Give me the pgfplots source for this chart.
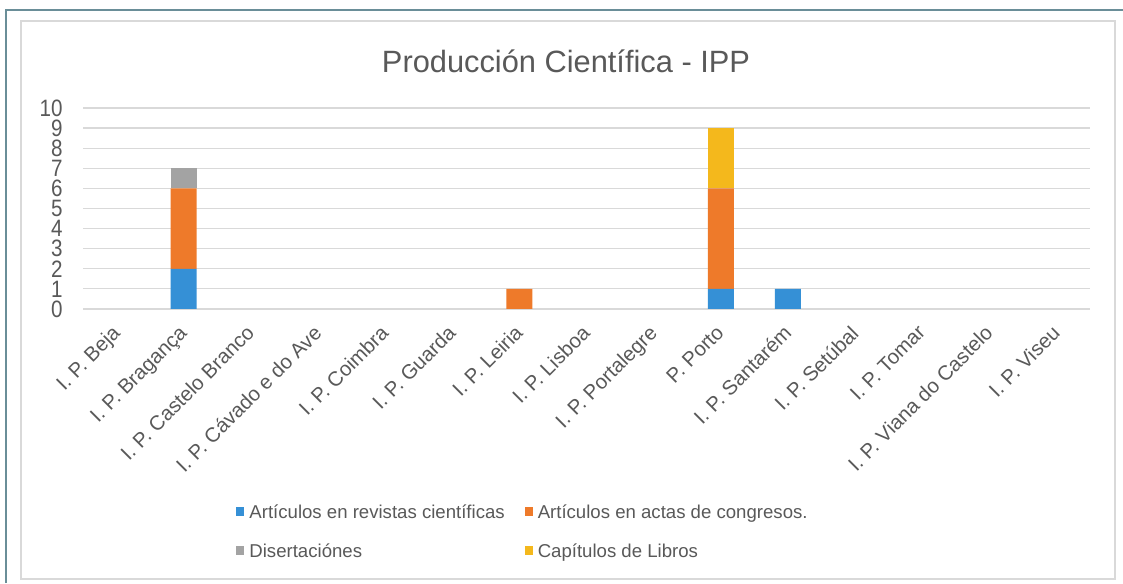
\documentclass[border=0pt]{standalone}
\usepackage{pgfplots}
\pgfplotsset{compat=1.18}
\usepackage{fontspec}
\setmainfont{Liberation Sans}
\definecolor{cblue}{HTML}{3590D6}
\definecolor{corange}{HTML}{EE7A2A}
\definecolor{cgray}{HTML}{A3A3A3}
\definecolor{cyellow}{HTML}{F4B81C}
\definecolor{ctext}{HTML}{595959}
\definecolor{cgrid}{HTML}{D9D9D9}
\definecolor{cframe}{HTML}{6A8E98}
\begin{document}
\begin{tikzpicture}
\useasboundingbox (0pt,0pt) rectangle (561.5pt,291.5pt);
\fill[white] (0pt,0pt) rectangle (561.5pt,291.5pt);
\draw[cframe, line width=1pt] (3pt,0pt) -- (3pt,286.5pt) -- (561.5pt,286.5pt);
\draw[cgrid, line width=0.6pt] (10.5pt,2pt) rectangle (557.5pt,281pt);
\node[font=\fontsize{15.4}{18}\selectfont, text=ctext] at (283pt,261pt) {Producción Científica - IPP};
\begin{axis}[
  at={(41.5pt,137pt)}, anchor=south west,
  scale only axis, width=503.5pt, height=100.5pt,
  ybar stacked, bar width=13pt,
  xmin=-0.5, xmax=14.5, ymin=0, ymax=10,
  axis line style={draw=none},
  ymajorgrids, grid style={cgrid, line width=0.6pt},
  ytick={0,...,10},
  xtick={0,...,14},
  xticklabels={I. P. Beja, I. P. Bragança, I. P. Castelo Branco, I. P. Cávado e do Ave, I. P. Coimbra, I. P. Guarda, I. P. Leiria, I. P. Lisboa, I. P. Portalegre, P. Porto, I. P. Santarém, I. P. Setúbal, I. P. Tomar, I. P. Viana do Castelo, I. P. Viseu},
  x tick label style={xshift=-2.9pt, yshift=-5.9pt, rotate=45, anchor=north east, font=\fontsize{10.2}{11}\selectfont, text=ctext, inner sep=1pt},
  y tick label style={font=\fontsize{10.3}{11}\selectfont, text=ctext, yscale=1.15, inner sep=0pt, xshift=-10pt},
  /pgf/number format/assume math mode=true,
  major tick length=0pt,
  legend columns=2,
  legend cell align=left,
  legend image code/.code={\fill[#1] (0pt,-2.2pt) rectangle (4pt,2.2pt);},
  legend style={draw=none, fill=none, at={(0.146,-0.925)}, anchor=north west,
    font=\fontsize{9.3}{11}\selectfont, text=ctext, row sep=8pt,
    nodes={inner sep=1pt, text depth=0.25ex, text height=1.6ex},
    /tikz/every odd column/.append style={column sep=1.5pt},
    /tikz/every even column/.append style={column sep=9pt}},
]
\addplot[fill=cblue, draw=none] coordinates {(0,0) (1,2) (2,0) (3,0) (4,0) (5,0) (6,0) (7,0) (8,0) (9,1) (10,1) (11,0) (12,0) (13,0) (14,0)};
\addplot[fill=corange, draw=none] coordinates {(0,0) (1,4) (2,0) (3,0) (4,0) (5,0) (6,1) (7,0) (8,0) (9,5) (10,0) (11,0) (12,0) (13,0) (14,0)};
\addplot[fill=cgray, draw=none] coordinates {(0,0) (1,1) (2,0) (3,0) (4,0) (5,0) (6,0) (7,0) (8,0) (9,0) (10,0) (11,0) (12,0) (13,0) (14,0)};
\addplot[fill=cyellow, draw=none] coordinates {(0,0) (1,0) (2,0) (3,0) (4,0) (5,0) (6,0) (7,0) (8,0) (9,3) (10,0) (11,0) (12,0) (13,0) (14,0)};
\legend{Artículos en revistas científicas, Artículos en actas de congresos., Disertaciónes, Capítulos de Libros}
\end{axis}
\end{tikzpicture}
\end{document}
